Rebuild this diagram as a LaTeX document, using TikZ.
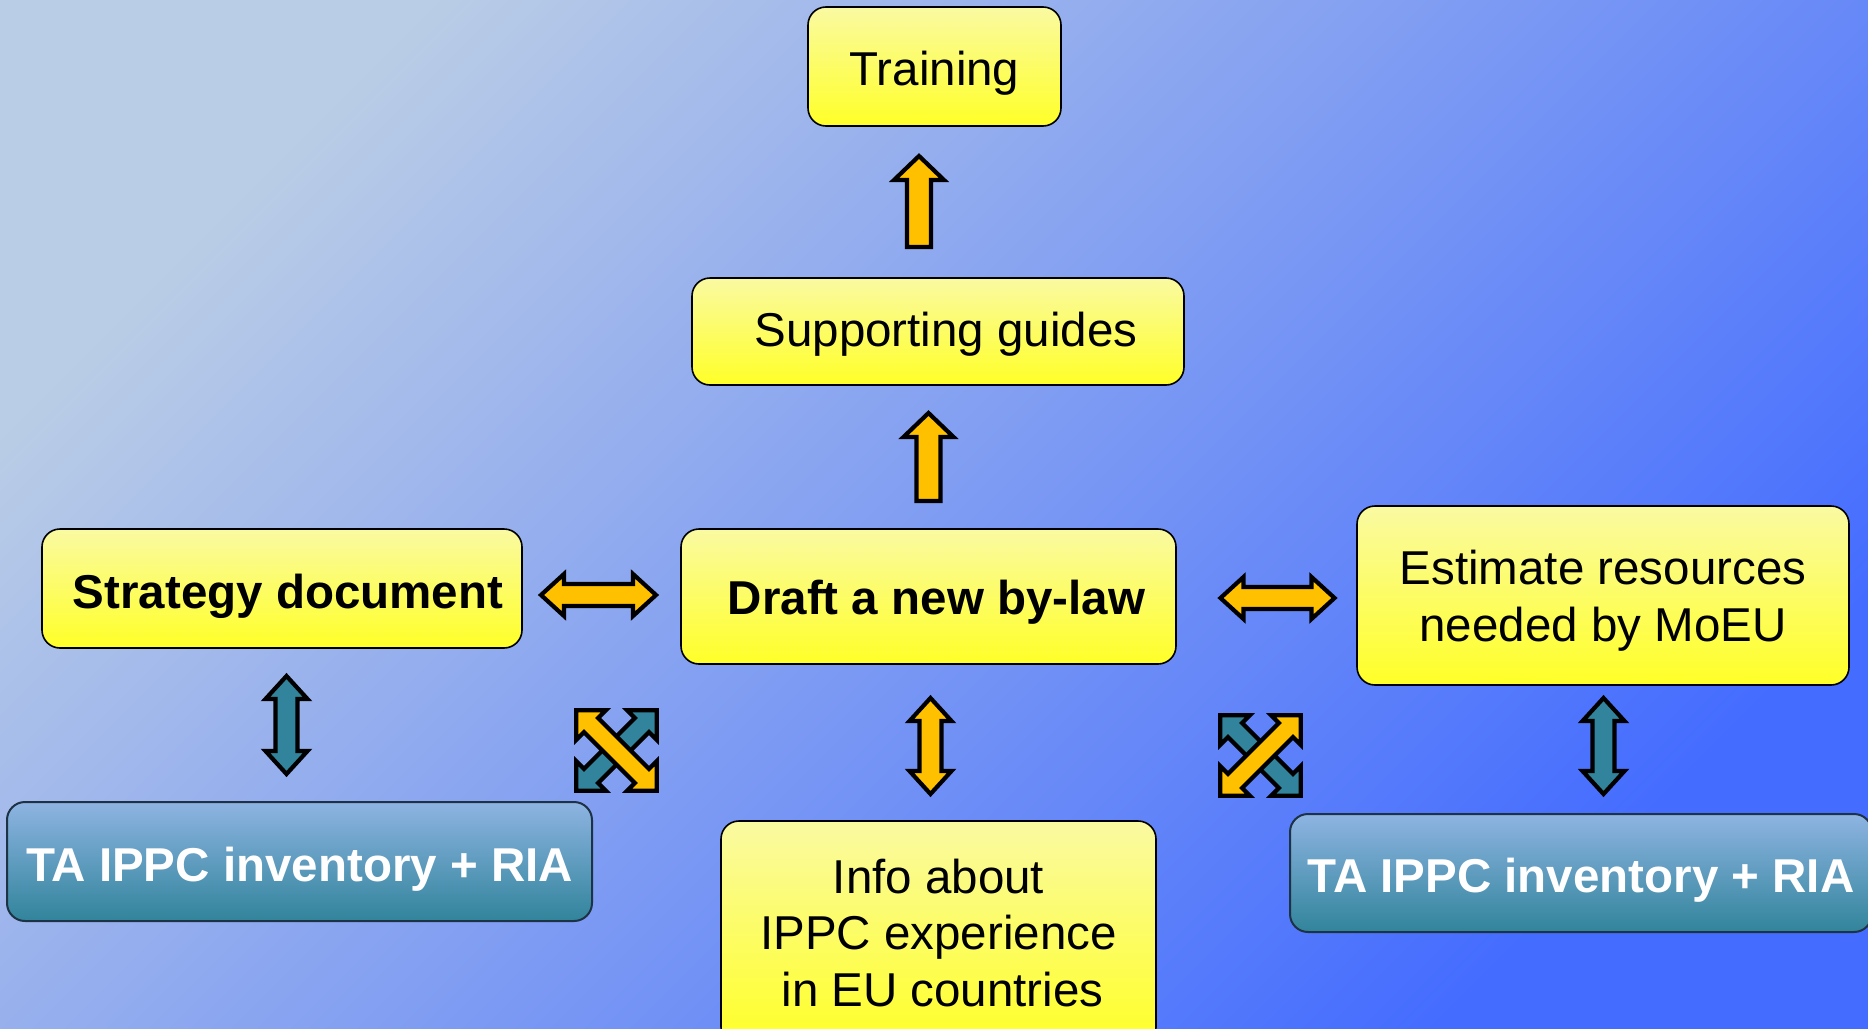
\documentclass[tikz,border=0pt]{standalone}
\usepackage{fontspec}
\setmainfont{Liberation Sans}
\definecolor{bgA}{RGB}{186,205,230}
\definecolor{bgM}{RGB}{150,172,240}
\definecolor{bgB}{RGB}{68,108,255}
\definecolor{yelA}{RGB}{250,250,162}
\definecolor{yelB}{RGB}{255,255,40}
\definecolor{tealA}{RGB}{142,180,226}
\definecolor{tealB}{RGB}{49,132,155}
\definecolor{tealEdge}{RGB}{30,50,70}
\definecolor{arrO}{RGB}{255,192,0}
\definecolor{arrT}{RGB}{49,132,155}
\newcommand\lowtext[2]{\raisebox{-#1}[\height][\depth]{#2}}
\tikzset{
  txt/.style={font=\fontsize{23.75}{28.25}\selectfont},
  ybox/.style={txt, draw=black, line width=0.8pt, rounded corners=9pt,
    top color=yelA, bottom color=yelB, align=center, inner sep=0pt},
  tbox/.style={txt, draw=tealEdge, line width=1pt, rounded corners=9pt,
    top color=tealA, bottom color=tealB, text=white, font=\fontsize{23.75}{28.25}\selectfont\bfseries,
    align=center, inner sep=0pt},
  boldtxt/.style={font=\fontsize{23.75}{28.25}\selectfont\bfseries},
  blk/.style={line width=2.1pt, draw=black, line join=miter, miter limit=10},
  pics/dblarr/.style n args={5}{code={
    \draw[blk, fill=#5] (-#1,0) -- ({-#1+#2},#3) -- ({-#1+#2},#4) -- ({#1-#2},#4)
      -- ({#1-#2},#3) -- (#1,0) -- ({#1-#2},-#3) -- ({#1-#2},-#4)
      -- ({-#1+#2},-#4) -- ({-#1+#2},-#3) -- cycle;
  }},
  pics/sglarr/.style n args={5}{code={
    \draw[blk, fill=#5] (-#1,#4) -- ({#1-#2},#4) -- ({#1-#2},#3) -- (#1,0)
      -- ({#1-#2},-#3) -- ({#1-#2},-#4) -- (-#1,-#4) -- cycle;
  }},
}
\begin{document}
\begin{tikzpicture}[x=0.5pt,y=-0.5pt]
\useasboundingbox (0,0) rectangle (1868,1028);
\clip (0,0) rectangle (1868,1028);
\shade[top color=bgA, middle color=bgM, bottom color=bgB, shading angle=45]
  (0,0) rectangle (1868,1028);

% boxes
\node[ybox, minimum width=126.5pt, minimum height=59.5pt] (train) at (934.5,66.5)
  {\lowtext{3.5pt}{Training}};
\node[ybox, minimum width=246pt, minimum height=53.5pt] (guides) at (938,331.5)
  {\hspace{8pt}\lowtext{1.2pt}{Supporting guides}};
\node[ybox, boldtxt, minimum width=240pt, minimum height=59.5pt] (strat) at (282,588.5)
  {\hspace{6pt}\lowtext{4pt}{Strategy document}};
\node[ybox, boldtxt, minimum width=247.5pt, minimum height=67.5pt] (draft) at (928.5,596.5)
  {\hspace{8pt}\lowtext{3pt}{Draft a new by-law}};
\node[ybox, minimum width=246pt, minimum height=89.5pt] (est) at (1603,595.5)
  {\lowtext{3pt}{\begin{tabular}{@{}c@{}}Estimate resources\\needed by MoEU\end{tabular}}};
\node[ybox, minimum width=217.5pt, minimum height=112pt] (info) at (938.5,933)
  {Info about\\IPPC experience\\\hspace{4pt}in EU countries};
\node[tbox, minimum width=292.5pt, minimum height=59.5pt] (taL) at (299.5,861.5)
  {\lowtext{4pt}{TA IPPC inventory + RIA}};
\node[tbox, minimum width=291pt, minimum height=59pt] (taR) at (1581,873)
  {\lowtext{3.5pt}{TA IPPC inventory + RIA}};

% single up arrows
\pic[rotate=90] at (919,201.5) {sglarr={45.5}{24}{25}{12}{arrO}};
\pic[rotate=90] at (928.5,457) {sglarr={44}{24}{25}{12}{arrO}};

% horizontal double arrows
\pic at (598.5,595) {dblarr={57.5}{23}{21}{11}{arrO}};
\pic at (1277.5,598) {dblarr={57}{23}{21}{11}{arrO}};

% vertical double arrows
\pic[rotate=90] at (286.5,725) {dblarr={49}{23}{21}{11}{arrT}};
\pic[rotate=90] at (930.5,746) {dblarr={48}{23}{21}{11}{arrO}};
\pic[rotate=90] at (1603.5,746) {dblarr={48}{23}{21}{11}{arrT}};

% crossed arrows left
\pic[rotate=45] at (616.5,750.5) {dblarr={57}{21}{21}{10}{arrT}};
\pic[rotate=-45] at (616.5,750.5) {dblarr={57}{21}{21}{10}{arrO}};
% crossed arrows right
\pic[rotate=-45] at (1260.5,755.5) {dblarr={57}{21}{21}{10}{arrT}};
\pic[rotate=45] at (1260.5,755.5) {dblarr={57}{21}{21}{10}{arrO}};
\end{tikzpicture}
\end{document}
